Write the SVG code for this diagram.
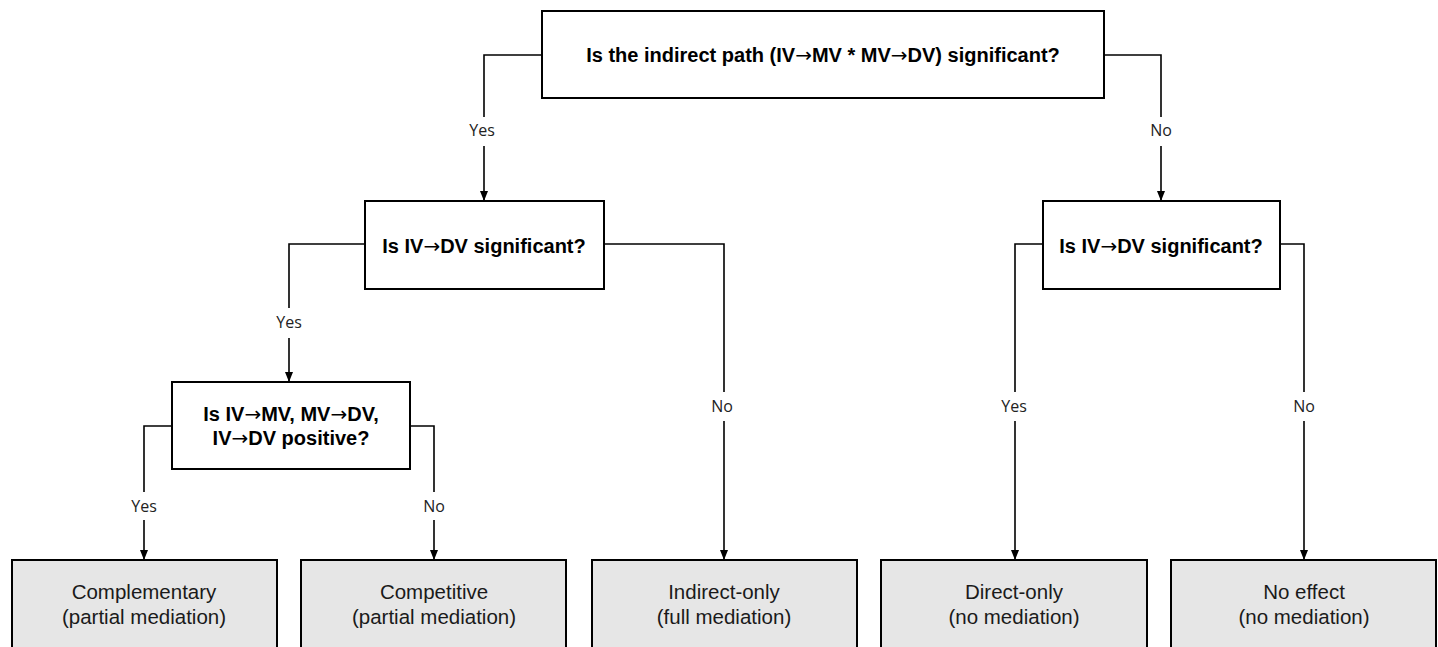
<svg xmlns="http://www.w3.org/2000/svg" width="1438" height="647" viewBox="0 0 1438 647">
<style>
.q{fill:#fff;stroke:#000;stroke-width:2}
.leaf{fill:#e6e6e6;stroke:#000;stroke-width:2}
.qt{font-family:"Liberation Sans",Arial,sans-serif;font-weight:bold;font-size:20px;fill:#000;text-anchor:middle}
.ar{font-family:"DejaVu Sans",sans-serif;font-weight:normal}
.lt{font-family:"Liberation Sans",Arial,sans-serif;font-size:20.5px;fill:#1a1a1a;text-anchor:middle}
.lbl{font-family:"Open Sans","Noto Sans",sans-serif;font-size:16px;fill:#222;text-anchor:middle}
.c{fill:none;stroke:#000;stroke-width:1.6}
</style>
<defs>
<marker id="ah" markerWidth="10" markerHeight="10" refX="9" refY="5" orient="auto" markerUnits="userSpaceOnUse" viewBox="0 0 10 10">
<path d="M0,1 L10,5 L0,9 Z" fill="#000"/>
</marker>
</defs>
<g id="connectors">
<path class="c" d="M541,55 H484 V117"/>
<path class="c" d="M484,146 V200" marker-end="url(#ah)"/>
<text class="lbl" x="482" y="136">Yes</text>
<path class="c" d="M1104,55 H1161 V117"/>
<path class="c" d="M1161,146 V200" marker-end="url(#ah)"/>
<text class="lbl" x="1161" y="136">No</text>
<path class="c" d="M364,244 H289 V308"/>
<path class="c" d="M289,338 V381" marker-end="url(#ah)"/>
<text class="lbl" x="289" y="328">Yes</text>
<path class="c" d="M604,244 H724 V392"/>
<path class="c" d="M724,421 V559" marker-end="url(#ah)"/>
<text class="lbl" x="722" y="412">No</text>
<path class="c" d="M171,426 H144 V492"/>
<path class="c" d="M144,520 V559" marker-end="url(#ah)"/>
<text class="lbl" x="144" y="512">Yes</text>
<path class="c" d="M410,426 H434 V492"/>
<path class="c" d="M434,520 V559" marker-end="url(#ah)"/>
<text class="lbl" x="434" y="512">No</text>
<path class="c" d="M1042,244 H1015 V392"/>
<path class="c" d="M1015,421 V559" marker-end="url(#ah)"/>
<text class="lbl" x="1014" y="412">Yes</text>
<path class="c" d="M1280,244 H1304 V392"/>
<path class="c" d="M1304,421 V559" marker-end="url(#ah)"/>
<text class="lbl" x="1304" y="412">No</text>
</g>
<g id="q1">
<rect class="q" x="542" y="11" width="562" height="87"/>
<text class="qt" x="823" y="62">Is the indirect path (IV<tspan class="ar">→</tspan>MV * MV<tspan class="ar">→</tspan>DV) significant?</text>
</g>
<g id="q2">
<rect class="q" x="365" y="201" width="239" height="88"/>
<text class="qt" x="484" y="253">Is IV<tspan class="ar">→</tspan>DV significant?</text>
</g>
<g id="q3">
<rect class="q" x="1043" y="201" width="237" height="88"/>
<text class="qt" x="1161" y="253">Is IV<tspan class="ar">→</tspan>DV significant?</text>
</g>
<g id="q4">
<rect class="q" x="172" y="382" width="238" height="87"/>
<text class="qt" x="291" y="421">Is IV<tspan class="ar">→</tspan>MV, MV<tspan class="ar">→</tspan>DV,</text>
<text class="qt" x="291" y="445">IV<tspan class="ar">→</tspan>DV positive?</text>
</g>
<g id="leaf1">
<rect class="leaf" x="12" y="560" width="265" height="100"/>
<text class="lt" x="144" y="599">Complementary</text>
<text class="lt" x="144" y="624">(partial mediation)</text>
</g>
<g id="leaf2">
<rect class="leaf" x="301" y="560" width="265" height="100"/>
<text class="lt" x="434" y="599">Competitive</text>
<text class="lt" x="434" y="624">(partial mediation)</text>
</g>
<g id="leaf3">
<rect class="leaf" x="592" y="560" width="265" height="100"/>
<text class="lt" x="724" y="599">Indirect-only</text>
<text class="lt" x="724" y="624">(full mediation)</text>
</g>
<g id="leaf4">
<rect class="leaf" x="881" y="560" width="266" height="100"/>
<text class="lt" x="1014" y="599">Direct-only</text>
<text class="lt" x="1014" y="624">(no mediation)</text>
</g>
<g id="leaf5">
<rect class="leaf" x="1171" y="560" width="265" height="100"/>
<text class="lt" x="1304" y="599">No effect</text>
<text class="lt" x="1304" y="624">(no mediation)</text>
</g>
</svg>
